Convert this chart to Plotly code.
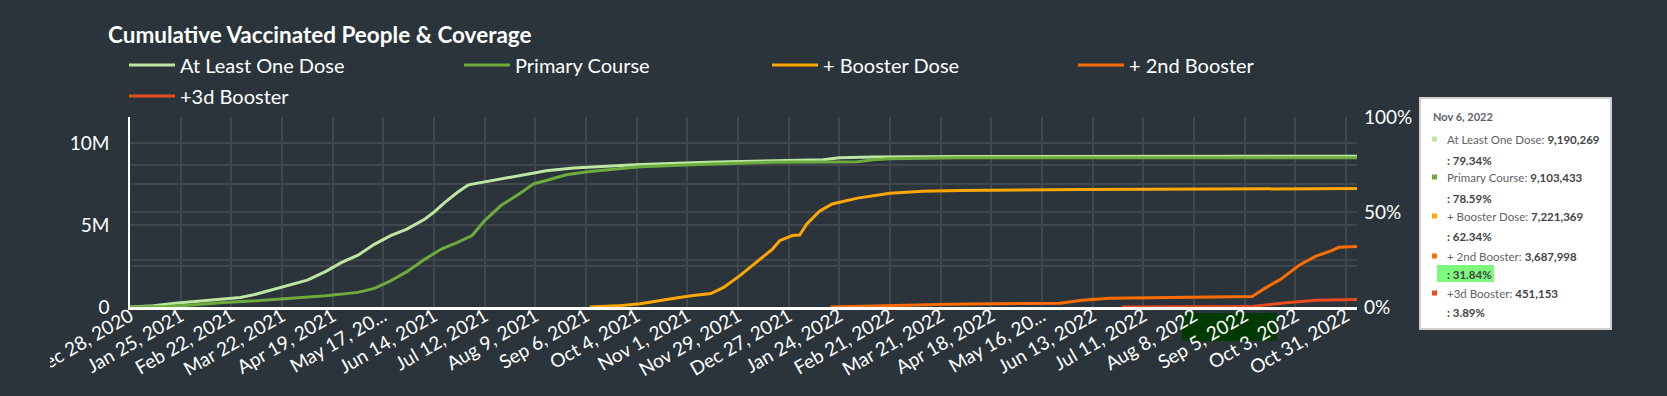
import plotly.graph_objects as go

# ---------------- data ----------------
POPULATION = 11583400

one_dates = ["2020-12-28", "2021-01-10", "2021-01-22", "2021-01-31", "2021-02-18", "2021-02-27",
             "2021-03-08", "2021-03-18", "2021-03-27", "2021-04-05", "2021-04-15", "2021-04-24",
             "2021-05-03", "2021-05-12", "2021-05-21", "2021-05-30", "2021-06-09", "2021-06-14",
             "2021-06-20", "2021-06-27", "2021-07-03", "2021-07-16", "2021-08-03", "2021-08-15",
             "2021-08-30", "2021-10-06", "2021-11-12", "2021-12-18", "2022-01-15", "2022-01-24",
             "2022-02-12", "2022-04-01", "2022-11-06"]
one_vals = [0, 70000, 232000, 313000, 475000, 579000,
            788000, 1089000, 1332000, 1633000, 2154000, 2722000,
            3162000, 3822000, 4355000, 4749000, 5363000, 5780000,
            6382000, 6996000, 7448000, 7714000, 8097000, 8305000,
            8467000, 8687000, 8826000, 8907000, 8977000, 9093000,
            9151000, 9174000, 9190269]

primary_dates = ["2020-12-28", "2021-01-17", "2021-01-31", "2021-02-18", "2021-03-08", "2021-03-27",
                 "2021-04-15", "2021-05-03", "2021-05-12", "2021-05-21", "2021-05-30", "2021-06-09",
                 "2021-06-18", "2021-06-27", "2021-07-05", "2021-07-12", "2021-07-21", "2021-07-31",
                 "2021-08-08", "2021-08-15", "2021-08-18", "2021-08-26", "2021-09-08", "2021-10-06",
                 "2021-11-12", "2021-12-18", "2022-02-03", "2022-02-12", "2022-02-21", "2022-04-01",
                 "2022-11-06"]
primary_vals = [0, 23000, 116000, 278000, 382000, 521000,
                683000, 892000, 1135000, 1598000, 2154000, 2919000,
                3533000, 3938000, 4355000, 5270000, 6185000, 6892000,
                7506000, 7714000, 7807000, 8062000, 8259000, 8548000,
                8710000, 8826000, 8849000, 8977000, 9035000, 9093000,
                9103433]

booster_dates = ["2021-09-08", "2021-09-23", "2021-10-06", "2021-10-15", "2021-10-24", "2021-11-03",
                 "2021-11-14", "2021-11-21", "2021-11-30", "2021-12-09", "2021-12-18", "2021-12-22",
                 "2021-12-29", "2022-01-02", "2022-01-06", "2022-01-13", "2022-01-20", "2022-02-03",
                 "2022-02-21", "2022-03-11", "2022-04-01", "2022-06-07", "2022-11-06"]
booster_vals = [0, 69000, 197000, 382000, 521000, 683000,
                822000, 1193000, 1911000, 2722000, 3533000, 4042000,
                4355000, 4390000, 5062000, 5838000, 6278000, 6637000,
                6938000, 7054000, 7100000, 7158000, 7221369]

second_dates = ["2022-01-19", "2022-02-21", "2022-03-26", "2022-05-26", "2022-06-07", "2022-06-22",
                "2022-09-09", "2022-09-16", "2022-09-25", "2022-10-05", "2022-10-14", "2022-10-23",
                "2022-10-27", "2022-11-06"]
second_vals = [0, 93000, 174000, 232000, 417000, 533000,
               637000, 1135000, 1703000, 2548000, 3081000, 3440000,
               3637000, 3687998]

third_dates = ["2022-06-29", "2022-09-08", "2022-09-25", "2022-10-14", "2022-11-06"]
third_vals = [0, 23000, 232000, 417000, 451153]

series_names = ["At Least One Dose", "Primary Course", "+ Booster Dose", "+ 2nd Booster", "+3d Booster"]
series_colors = ["#bde6a3", "#6cab3c", "#ffa600", "#ff6d00", "#ea4a1c"]

tooltip_date = "Nov 6, 2022"
tooltip_counts = ["9,190,269", "9,103,433", "7,221,369", "3,687,998", "451,153"]
tooltip_pcts = ["79.34%", "78.59%", "62.34%", "31.84%", "3.89%"]

x_tick_dates = ["2020-12-28", "2021-01-25", "2021-02-22", "2021-03-22", "2021-04-19", "2021-05-17",
                "2021-06-14", "2021-07-12", "2021-08-09", "2021-09-06", "2021-10-04", "2021-11-01",
                "2021-11-29", "2021-12-27", "2022-01-24", "2022-02-21", "2022-03-21", "2022-04-18",
                "2022-05-16", "2022-06-13", "2022-07-11", "2022-08-08", "2022-09-05", "2022-10-03",
                "2022-10-31"]
x_tick_text = ["Dec 28, 2020", "Jan 25, 2021", "Feb 22, 2021", "Mar 22, 2021", "Apr 19, 2021",
               "May 17, 20...", "Jun 14, 2021", "Jul 12, 2021", "Aug 9, 2021", "Sep 6, 2021",
               "Oct 4, 2021", "Nov 1, 2021", "Nov 29, 2021", "Dec 27, 2021", "Jan 24, 2022",
               "Feb 21, 2022", "Mar 21, 2022", "Apr 18, 2022", "May 16, 20...", "Jun 13, 2022",
               "Jul 11, 2022", "Aug 8, 2022", "Sep 5, 2022", "Oct 3, 2022", "Oct 31, 2022"]
y_tick_vals = [0, 2500000, 5000000, 7500000, 10000000]
y_tick_text = ["0", "", "5M", "", "10M"]
y2_tick_vals = [0, 0.25, 0.5, 0.75, 1.0]
y2_tick_text = ["0%", "", "50%", "", "100%"]

# ---------------- layout geometry ----------------
W, H = 1667, 396
L, R, T, B = 130, 310, 117, 89
PW, PH = W - L - R, H - T - B
BG = "#2a343a"
GRID = "#3f474c"
FONT = "Lato"


def px(xp):
    return (xp - L) / PW


def py(yp):
    return (H - B - yp) / PH


all_series = [(one_dates, one_vals), (primary_dates, primary_vals), (booster_dates, booster_vals),
              (second_dates, second_vals), (third_dates, third_vals)]
legend_ids = ["legend", "legend2", "legend3", "legend4", "legend5"]
legend_pos = [(129, 65), (464, 65), (772, 65), (1078, 65), (129, 96)]

fig = go.Figure()
for i, (d, v) in enumerate(all_series):
    fig.add_trace(go.Scatter(x=d, y=v, mode="lines", name=series_names[i],
                             line=dict(color=series_colors[i], width=3),
                             legend=legend_ids[i], hoverinfo="skip"))
# carrier for the coverage axis
fig.add_trace(go.Scatter(x=[one_dates[0]], y=[0], yaxis="y2", mode="lines", showlegend=False,
                         hoverinfo="skip", line=dict(width=0)))

layout_legends = {}
for i, lid in enumerate(legend_ids):
    lx, ly = legend_pos[i]
    layout_legends[lid] = dict(x=px(lx - 5), y=py(ly), xanchor="left", yanchor="middle",
                               orientation="h", bgcolor="rgba(0,0,0,0)", borderwidth=0,
                               font=dict(family=FONT, size=20, color="#ffffff"),
                               itemwidth=46, itemclick=False, itemdoubleclick=False)

shapes = []
annotations = []

# selection highlight on the x tick labels
shapes.append(dict(type="rect", xref="paper", yref="paper", x0=px(1182), x1=px(1277),
                   y0=py(341), y1=py(313), fillcolor="#013a01", line=dict(width=0), layer="below"))
# clip of the first tick label (chart container edge)
shapes.append(dict(type="rect", xref="paper", yref="paper", x0=px(0), x1=px(50),
                   y0=py(396), y1=py(309), fillcolor=BG, line=dict(width=0), layer="above"))

# tooltip box
shapes.append(dict(type="rect", xref="paper", yref="paper", x0=px(1420), x1=px(1611),
                   y0=py(329), y1=py(98), fillcolor="#ffffff", line=dict(color="#cfcfcf", width=2),
                   layer="above"))
shapes.append(dict(type="rect", xref="paper", yref="paper", x0=px(1437), x1=px(1494),
                   y0=py(282), y1=py(265), fillcolor="#7dfa7d", line=dict(width=0), layer="above"))

TT_GREY = "#5f6368"
TT_DARK = "#444444"
annotations.append(dict(text="<b>" + tooltip_date + "</b>", xref="paper", yref="paper",
                        x=px(1431), y=py(116), xanchor="left", yanchor="middle", showarrow=False,
                        font=dict(family=FONT, size=11, color=TT_GREY)))
row_y = [(139, 160), (177, 198), (216, 236), (256, 274), (293, 312)]
for i in range(5):
    y1, y2 = row_y[i]
    shapes.append(dict(type="rect", xref="paper", yref="paper", x0=px(1432), x1=px(1437),
                       y0=py(y1 + 2.5), y1=py(y1 - 2.5), fillcolor=series_colors[i],
                       line=dict(width=0), layer="above"))
    annotations.append(dict(text=series_names[i] + ": <b><span style='color:%s'>%s</span></b>"
                            % (TT_DARK, tooltip_counts[i]),
                            xref="paper", yref="paper", x=px(1445), y=py(y1), xanchor="left",
                            yanchor="middle", showarrow=False,
                            font=dict(family=FONT, size=11.5, color=TT_GREY)))
    annotations.append(dict(text="<b>: " + tooltip_pcts[i] + "</b>", xref="paper", yref="paper",
                            x=px(1445), y=py(y2), xanchor="left", yanchor="middle", showarrow=False,
                            font=dict(family=FONT, size=11.5, color=TT_DARK)))

fig.update_layout(
    width=W, height=H,
    margin=dict(l=L, r=R, t=T, b=B, autoexpand=False),
    paper_bgcolor=BG, plot_bgcolor=BG,
    font=dict(family=FONT, color="#ffffff"),
    title=dict(text="<b>Cumulative Vaccinated People & Coverage</b>", xref="container", yref="container",
               x=108 / W, y=1 - 35 / H, xanchor="left", yanchor="middle",
               font=dict(family=FONT, size=22.5, color="#ffffff")),
    xaxis=dict(type="date", range=["2020-12-28", "2022-11-06"], tickmode="array",
               tickvals=x_tick_dates, ticktext=x_tick_text, tickangle=-30,
               tickfont=dict(family=FONT, size=19, color="#ffffff"), ticklabelstandoff=-12,
               showgrid=True, gridcolor=GRID, gridwidth=1.5, zeroline=False,
               showline=True, linecolor="#ffffff", linewidth=3, ticks="", automargin=False),
    yaxis=dict(range=[0, POPULATION], tickmode="array", tickvals=y_tick_vals, ticktext=y_tick_text,
               tickfont=dict(family=FONT, size=19, color="#ffffff"), ticklabelstandoff=15,
               showgrid=True, gridcolor=GRID, gridwidth=1.5, zeroline=False,
               showline=True, linecolor="#ffffff", linewidth=1.5, ticks="", automargin=False),
    yaxis2=dict(range=[0, 1], overlaying="y", side="right", tickmode="array",
                tickvals=y2_tick_vals, ticktext=y2_tick_text,
                tickfont=dict(family=FONT, size=19, color="#ffffff"), ticklabelstandoff=6,
                showgrid=True, gridcolor=GRID, gridwidth=1.5, zeroline=False, showline=False,
                ticks="", automargin=False),
    shapes=shapes, annotations=annotations,
    hovermode=False,
    **layout_legends,
)

fig.write_html("out.html", config={"displayModeBar": False},
               post_script="document.body.style.margin='0px';document.body.style.overflow='hidden';")
